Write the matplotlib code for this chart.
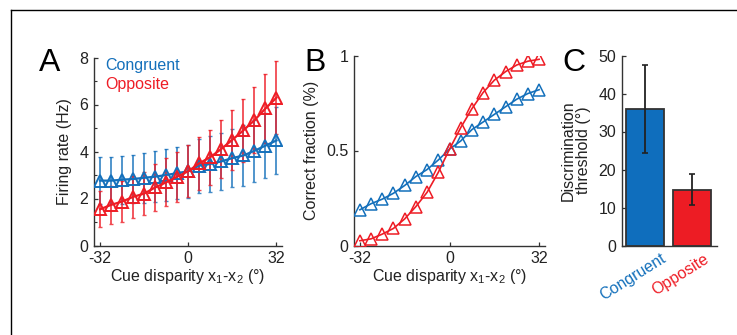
import matplotlib
matplotlib.use("Agg")
import matplotlib.pyplot as plt
import matplotlib.transforms as mtransforms
from matplotlib.lines import Line2D
from matplotlib.ticker import MultipleLocator

# ---------------- data ----------------
disparity = [-32, -28, -24, -20, -16, -12, -8, -4, 0, 4, 8, 12, 16, 20, 24, 28, 32]

congruent_rate = [2.76, 2.76, 2.80, 2.83, 2.88, 2.93, 3.00, 3.08, 3.16, 3.40, 3.47,
                  3.58, 3.72, 3.83, 4.03, 4.25, 4.47]
congruent_sd = [1.00, 1.00, 1.02, 1.04, 1.06, 1.08, 1.10, 1.10, 1.12, 1.15, 1.20,
                1.22, 1.25, 1.30, 1.33, 1.38, 1.42]
opposite_rate = [1.54, 1.73, 1.87, 2.07, 2.21, 2.47, 2.69, 2.93, 3.16, 3.50, 3.76,
                 4.11, 4.50, 4.90, 5.33, 5.83, 6.29]
opposite_sd = [0.77, 0.80, 0.86, 0.90, 0.92, 1.00, 1.02, 1.06, 1.10, 1.12, 1.17,
               1.23, 1.27, 1.33, 1.40, 1.48, 1.55]

congruent_frac = [0.188, 0.220, 0.244, 0.275, 0.316, 0.363, 0.400, 0.450, 0.507,
                  0.550, 0.610, 0.650, 0.690, 0.730, 0.770, 0.800, 0.820]
opposite_frac = [0.025, 0.035, 0.060, 0.090, 0.140, 0.205, 0.280, 0.385, 0.507,
                 0.620, 0.720, 0.805, 0.870, 0.915, 0.950, 0.970, 0.980]

groups = ["Congruent", "Opposite"]
threshold = [36.0, 14.7]
threshold_err = [11.6, 4.1]

x_ticks = [-32, 0, 32]

# ---------------- style ----------------
BLUE = "#1470bb"
RED = "#ee1c25"
BAR_BLUE = "#0f6ebd"
BAR_RED = "#ed1c24"
DARK = "#222222"
TICK_FS = 11.5
LABEL_FS = 11.5

plt.rcParams["font.family"] = ["Liberation Sans", "DejaVu Sans"]
plt.rcParams["mathtext.fontset"] = "custom"
plt.rcParams["mathtext.rm"] = "Liberation Sans"
plt.rcParams["axes.unicode_minus"] = False
plt.rcParams["font.size"] = 10

W, H = 737, 335
fig = plt.figure(figsize=(W / 100, H / 100), dpi=100)


def px_axes(left, right, bottom, top):
    return fig.add_axes([left / W, 1 - bottom / H, (right - left) / W, (bottom - top) / H])


def style(ax, minor=None):
    for s in ("top", "right"):
        ax.spines[s].set_visible(False)
    for s in ("left", "bottom"):
        ax.spines[s].set_color("#333333")
        ax.spines[s].set_linewidth(1.0)
    ax.tick_params(direction="in", length=3, width=0.9, colors="#333333",
                   labelcolor=DARK, labelsize=TICK_FS, pad=4)
    ax.tick_params(which="minor", direction="in", length=2, width=0.8, colors="#333333")
    if minor is not None:
        ax.yaxis.set_minor_locator(MultipleLocator(minor))


xlabel = "Cue disparity x$_\\mathregular{1}$-x$_\\mathregular{2}$ (°)"

# ---------------- panel A ----------------
axA = px_axes(94, 282, 245.5, 57.5)
axA.errorbar(disparity, congruent_rate, yerr=congruent_sd, fmt="none", ecolor=BLUE,
             elinewidth=1.3, capsize=1.6, capthick=1.0, alpha=0.8, zorder=2)
axA.errorbar(disparity, opposite_rate, yerr=opposite_sd, fmt="none", ecolor=RED,
             elinewidth=1.3, capsize=1.6, capthick=1.0, alpha=0.8, zorder=3)
axA.plot(disparity, congruent_rate, color=BLUE, lw=1.6, marker="^", ms=9,
         mfc="none", mec=BLUE, mew=1.4, zorder=4)
axA.plot(disparity, opposite_rate, color=RED, lw=1.6, marker="^", ms=9,
         mfc="none", mec=RED, mew=1.4, zorder=5)
axA.set_xlim(-34.2, 34.0)
axA.set_ylim(0, 8)
axA.set_xticks(x_ticks)
axA.set_yticks([0, 2, 4, 6, 8])
style(axA, minor=1)
axA.set_ylabel("Firing rate (Hz)", fontsize=LABEL_FS, color=DARK, labelpad=5)
axA.set_xlabel(xlabel, fontsize=LABEL_FS, color=DARK, labelpad=1)
axA.text(-30.2, 7.68, "Congruent", color=BLUE, fontsize=11.5, va="center", ha="left")
axA.text(-30.2, 6.85, "Opposite", color=RED, fontsize=11.5, va="center", ha="left")

# ---------------- panel B ----------------
axB = px_axes(354, 545, 245.5, 55.5)
axB.plot(disparity, congruent_frac, color=BLUE, lw=1.2, marker="^", ms=8,
         mfc="none", mec=BLUE, mew=1.1, zorder=3)
axB.plot(disparity, opposite_frac, color=RED, lw=1.2, marker="^", ms=8,
         mfc="none", mec=RED, mew=1.1, zorder=4)
axB.set_xlim(-34.1, 34.1)
axB.set_ylim(0, 1)
axB.set_xticks(x_ticks)
axB.set_yticks([0, 0.5, 1])
axB.set_yticklabels(["0", "0.5", "1"])
style(axB)
axB.set_ylabel("Correct fraction (%)", fontsize=LABEL_FS, color=DARK, labelpad=5)
axB.set_xlabel(xlabel, fontsize=LABEL_FS, color=DARK, labelpad=1)

# ---------------- panel C ----------------
axC = px_axes(621.7, 716.7, 245.5, 55.5)
pos = list(range(len(groups)))
axC.bar(pos, threshold, width=0.82, color=[BAR_BLUE, BAR_RED], edgecolor="#333333",
        linewidth=1.3, zorder=2)
axC.errorbar(pos, threshold, yerr=threshold_err, fmt="none", ecolor="#222222",
             elinewidth=1.3, capsize=2, capthick=1.2, zorder=3)
axC.set_xlim(-0.503, 1.53)
axC.set_ylim(0, 50)
axC.set_yticks([0, 10, 20, 30, 40, 50])
style(axC)
axC.tick_params(axis="x", length=0)
axC.set_xticks(pos)
axC.set_xticklabels(groups, rotation=32, ha="center", va="top", fontsize=11.5)
offset = mtransforms.ScaledTranslation(-12 / 100, 0, fig.dpi_scale_trans)
for lab, col in zip(axC.get_xticklabels(), [BLUE, RED]):
    lab.set_color(col)
    lab.set_transform(lab.get_transform() + offset)
axC.set_ylabel("Discrimination\nthreshold (°)", fontsize=LABEL_FS, color=DARK,
               labelpad=5, linespacing=1.05)

# ---------------- panel letters ----------------
for letter, xp in (("A", 39), ("B", 304), ("C", 562)):
    fig.text(xp / W, 1 - 71 / H, letter, fontsize=23, ha="left", va="baseline",
             color="black")

# ---------------- frame lines ----------------
ytop = 1 - 9.5 / H
xl = 11 / W
fig.add_artist(Line2D([xl, 1.0], [ytop, ytop], transform=fig.transFigure,
                      color="black", lw=1.0))
fig.add_artist(Line2D([xl, xl], [0, ytop], transform=fig.transFigure,
                      color="black", lw=1.0))

fig.savefig("out.png", dpi=100)
